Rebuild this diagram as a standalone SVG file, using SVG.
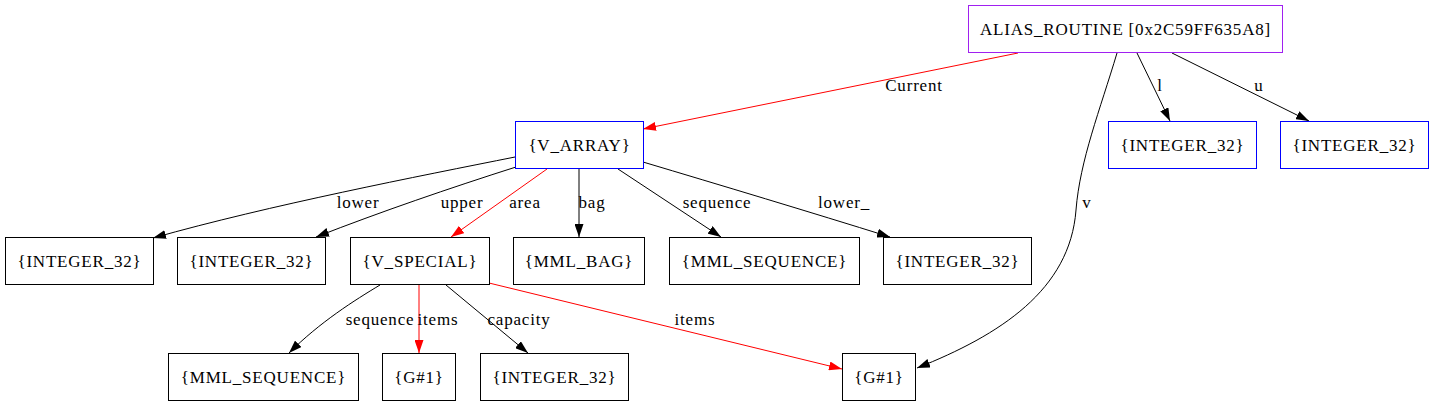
<svg xmlns="http://www.w3.org/2000/svg" width="1433" height="407" viewBox="0 0 1433 407">
<style>
text{font-family:"Liberation Serif","Times New Roman",serif;font-size:17px;letter-spacing:0.8px;fill:#000}
.n text{text-anchor:middle}
.box{fill:#fff;stroke:#000;stroke-width:1}
.blue{stroke:#0000ff}
.purple{stroke:#a020f0}
.e{fill:none;stroke:#000;stroke-width:1;marker-end:url(#ab)}
.r{stroke:#ff0000;marker-end:url(#ar)}
.lbl{text-anchor:middle}
</style>
<defs>
<marker id="ab" viewBox="0 0 13 9" refX="13" refY="4.5" markerWidth="13" markerHeight="9" markerUnits="userSpaceOnUse" orient="auto"><path d="M0,0 L13,4.5 L0,9 z" fill="#000"/></marker>
<marker id="ar" viewBox="0 0 13 9" refX="13" refY="4.5" markerWidth="13" markerHeight="9" markerUnits="userSpaceOnUse" orient="auto"><path d="M0,0 L13,4.5 L0,9 z" fill="#ff0000"/></marker>
</defs>
<rect width="1433" height="407" fill="#fff"/>
<g id="edges">
<path class="e r" d="M1018,53 L643,129"/>
<text class="lbl" x="914" y="91">Current</text>
<path class="e" d="M1117,53 C1100,110 1080,160 1076,210 C1070,290 1000,335 917,368"/>
<text class="lbl" x="1087" y="208">v</text>
<path class="e" d="M1137,53 L1170,121"/>
<text class="lbl" x="1160" y="91">l</text>
<path class="e" d="M1172,53 L1309,121"/>
<text class="lbl" x="1259" y="91">u</text>
<path class="e" d="M515,157 C420,176 270,205 153,238"/>
<text class="lbl" x="358" y="208">lower</text>
<path class="e" d="M516,167 C450,188 380,212 316,237"/>
<text class="lbl" x="462" y="208">upper</text>
<path class="e r" d="M547,169 L451,237"/>
<text class="lbl" x="525" y="208">area</text>
<path class="e" d="M579,169 L579,237"/>
<text class="lbl" x="592" y="208">bag</text>
<path class="e" d="M618,169 L721,237"/>
<text class="lbl" x="717" y="208">sequence</text>
<path class="e" d="M643,162 C720,185 810,212 890,237"/>
<text class="lbl" x="844" y="208">lower_</text>
<path class="e" d="M380,285 C355,300 320,322 289,353"/>
<text class="lbl" x="380" y="325">sequence</text>
<path class="e r" d="M419,285 L419,353"/>
<text class="lbl" x="438" y="325">items</text>
<path class="e" d="M446,285 L528,353"/>
<text class="lbl" x="519" y="325">capacity</text>
<path class="e r" d="M489,283 L842,369"/>
<text class="lbl" x="695" y="325">items</text>
</g>
<g id="alias" class="n"><rect class="box purple" x="968.5" y="5.5" width="314" height="47"/><text x="1125.5" y="35">ALIAS_ROUTINE [0x2C59FF635A8]</text></g>
<g id="int_l" class="n"><rect class="box blue" x="1108.5" y="121.5" width="148" height="47"/><text x="1182.5" y="151">{INTEGER_32}</text></g>
<g id="int_u" class="n"><rect class="box blue" x="1280.5" y="121.5" width="148" height="47"/><text x="1354.5" y="151">{INTEGER_32}</text></g>
<g id="v_array" class="n"><rect class="box blue" x="515.5" y="121.5" width="128" height="47"/><text x="579.5" y="151">{V_ARRAY}</text></g>
<g id="int_lower" class="n"><rect class="box" x="5.5" y="237.5" width="148" height="47"/><text x="79.5" y="267">{INTEGER_32}</text></g>
<g id="int_upper" class="n"><rect class="box" x="177.5" y="237.5" width="148" height="47"/><text x="251.5" y="267">{INTEGER_32}</text></g>
<g id="v_special" class="n"><rect class="box" x="350.5" y="237.5" width="139" height="47"/><text x="420" y="267">{V_SPECIAL}</text></g>
<g id="mml_bag" class="n"><rect class="box" x="513.5" y="237.5" width="131" height="47"/><text x="579" y="267">{MML_BAG}</text></g>
<g id="mml_seq" class="n"><rect class="box" x="669.5" y="237.5" width="190" height="47"/><text x="764.5" y="267">{MML_SEQUENCE}</text></g>
<g id="int_lower_" class="n"><rect class="box" x="883.5" y="237.5" width="148" height="47"/><text x="957.5" y="267">{INTEGER_32}</text></g>
<g id="mml_seq2" class="n"><rect class="box" x="168.5" y="353.5" width="190" height="47"/><text x="263.5" y="383">{MML_SEQUENCE}</text></g>
<g id="g1a" class="n"><rect class="box" x="382.5" y="353.5" width="73" height="47"/><text x="419" y="383">{G#1}</text></g>
<g id="int_cap" class="n"><rect class="box" x="480.5" y="353.5" width="148" height="47"/><text x="554.5" y="383">{INTEGER_32}</text></g>
<g id="g1b" class="n"><rect class="box" x="842.5" y="353.5" width="73" height="47"/><text x="879" y="383">{G#1}</text></g>
</svg>
